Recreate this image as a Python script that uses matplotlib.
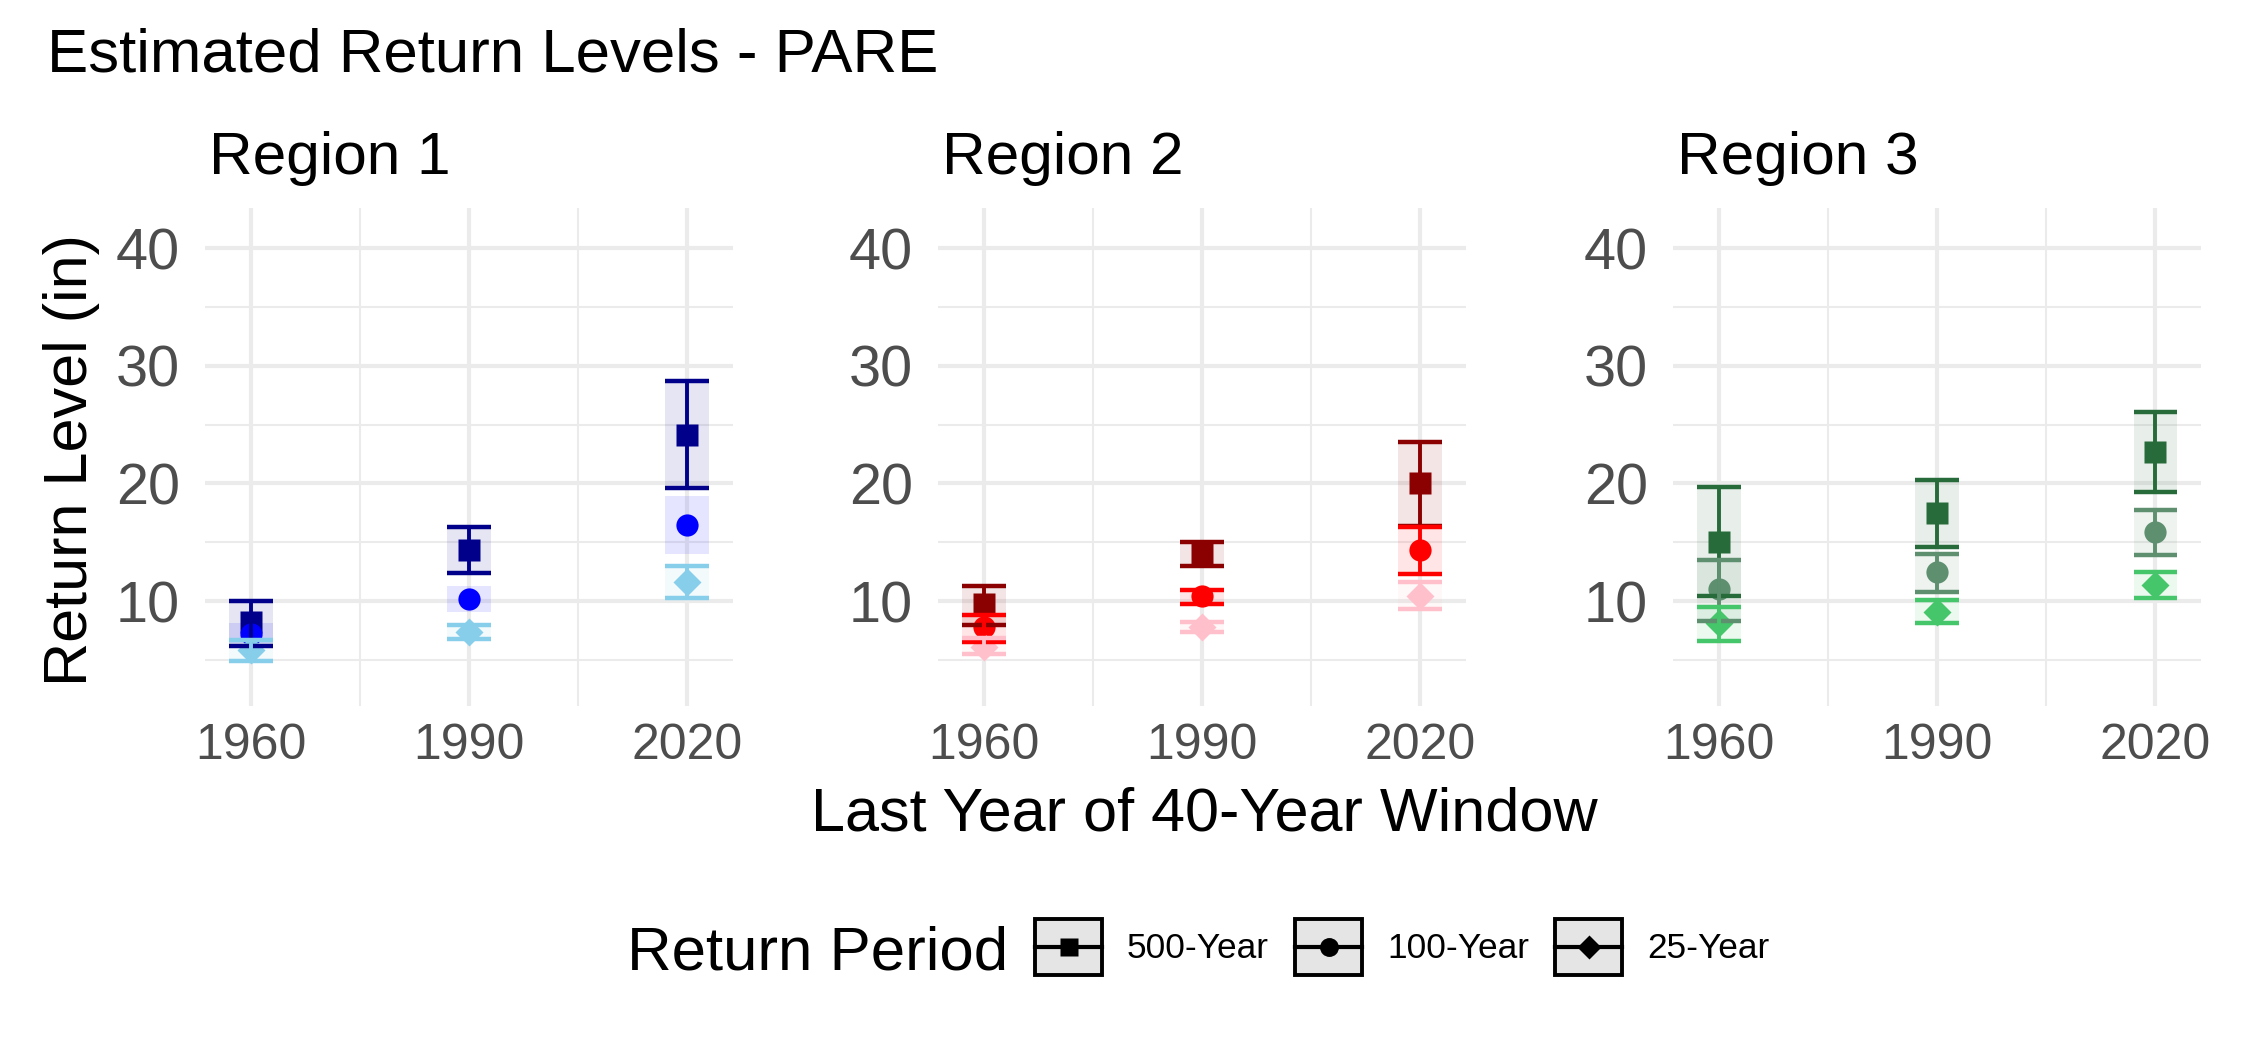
import matplotlib
matplotlib.use("Agg")
import matplotlib.pyplot as plt
from matplotlib.lines import Line2D
from matplotlib.patches import Rectangle

plt.rcParams['font.family'] = ['Liberation Sans', 'DejaVu Sans']

# ---- data ----
years = [1960, 1990, 2020]
periods = ['500-Year', '100-Year', '25-Year']
regions = ['Region 1', 'Region 2', 'Region 3']

# Region 1
r1_est = [[8.2, 14.3, 24.1], [7.2, 10.2, 16.5], [5.8, 7.4, 11.6]]
r1_lo = [[6.2, 12.4, 19.6], [6.4, 9.1, 14.0], [4.9, 6.75, 10.3]]
r1_hi = [[10.0, 16.3, 28.7], [8.1, 11.3, 18.9], [6.7, 8.0, 13.0]]

# Region 2
r2_est = [[9.75, 14.0, 20.0], [7.8, 10.4, 14.3], [6.1, 7.8, 10.4]]
r2_lo = [[8.0, 13.0, 16.4], [6.5, 9.75, 12.3], [5.5, 7.4, 9.3]]
r2_hi = [[11.3, 15.0, 23.5], [8.8, 10.95, 16.3], [6.9, 8.2, 11.65]]

# Region 3
r3_est = [[15.0, 17.5, 22.7], [11.0, 12.45, 15.9], [8.1, 9.1, 11.4]]
r3_lo = [[10.4, 14.6, 19.25], [8.3, 10.8, 13.95], [6.6, 8.1, 10.3]]
r3_hi = [[19.7, 20.3, 26.1], [13.5, 14.0, 17.75], [9.5, 10.05, 12.5]]

r1_cols = ['#00008B', '#0000FF', '#87CEEB']
r2_cols = ['#8B0000', '#FF0000', '#FFC0CB']
r3_cols = ['#276B3A', '#5E9070', '#45C66A']

# region 1 has no error bar drawn for the 100-year series
r1_bars = [True, False, True]
r2_bars = [True, True, True]
r3_bars = [True, True, True]

markers = ['s', 'o', 'D']
msizes = [16, 16, 14.5]

panels = [
    (r1_est, r1_lo, r1_hi, r1_cols, r1_bars),
    (r2_est, r2_lo, r2_hi, r2_cols, r2_bars),
    (r3_est, r3_lo, r3_hi, r3_cols, r3_bars),
]


class KeyHandler:
    # grey box + black line + marker, like the ggplot legend key
    def legend_artist(self, legend, orig_handle, fontsize, handlebox):
        x0, y0 = -handlebox.xdescent, -handlebox.ydescent
        w, h = handlebox.width, handlebox.height
        tr = handlebox.get_transform()
        box = Rectangle((x0, y0), w, h, facecolor='#E5E5E5', edgecolor='black', lw=2.8, transform=tr)
        ln = Line2D([x0, x0 + w], [y0 + h / 2] * 2, color='black', lw=3, transform=tr)
        mk = Line2D([x0 + w / 2], [y0 + h / 2], ls='none', marker=orig_handle.get_marker(),
                    ms=orig_handle.get_markersize(), color='black', mec='none', transform=tr)
        for a in (box, ln, mk):
            handlebox.add_artist(a)
        return box


fig = plt.figure(figsize=(22.5, 10.5), dpi=100)
lefts = [0.0911, 0.4169, 0.7436]
cap = 3.0  # half width of caps / boxes, in years

for i, (est, lo, hi, cols, bars) in enumerate(panels):
    ax = fig.add_axes([lefts[i], 0.3276, 0.2347, 0.4743])
    # shaded CI boxes
    for k in range(3):
        h = [b - a for a, b in zip(lo[k], hi[k])]
        ax.bar(years, h, bottom=lo[k], width=2 * cap, color=cols[k], alpha=0.1, lw=0, zorder=2)
    # points
    for k in range(3):
        ax.plot(years, est[k], ls='none', marker=markers[k], ms=msizes[k],
                color=cols[k], mec='none', zorder=3)
    # error bars
    for k in range(3):
        if not bars[k]:
            continue
        ax.vlines(years, lo[k], hi[k], color=cols[k], lw=2.8, zorder=4)
        ax.hlines(lo[k], [y - cap for y in years], [y + cap for y in years], color=cols[k], lw=3.2, zorder=4)
        ax.hlines(hi[k], [y - cap for y in years], [y + cap for y in years], color=cols[k], lw=3.2, zorder=4)

    ax.set_xlim(1953.7, 2026.3)
    ax.set_ylim(1.08, 43.4)
    ax.set_xticks(years)
    ax.set_xticks([1975, 2005], minor=True)
    ax.set_yticks([10, 20, 30, 40])
    ax.set_yticks([5, 15, 25, 35], minor=True)
    ax.grid(which='major', color='#EBEBEB', lw=3)
    ax.grid(which='minor', color='#EBEBEB', lw=1.5)
    ax.set_axisbelow(True)
    for s in ax.spines.values():
        s.set_visible(False)
    ax.tick_params(which='both', length=0)
    ax.tick_params(axis='y', labelsize=41.5, labelcolor='#4D4D4D', pad=18)
    ax.tick_params(axis='x', labelsize=36, labelcolor='#4D4D4D', pad=12)
    ax.text(0.008, 1.068, regions[i], transform=ax.transAxes, fontsize=43.5,
            ha='left', va='baseline')

fig.text(0.021, 0.9317, 'Estimated Return Levels - PARE', fontsize=44.5, ha='left', va='baseline')
fig.text(0.032, 0.562, 'Return Level (in)', fontsize=44, rotation=90, ha='center', va='center')
fig.text(0.5353, 0.2095, 'Last Year of 40-Year Window', fontsize=44, ha='center', va='baseline')

# legend
fig.text(0.2787, 0.0771, 'Return Period', fontsize=44.5, ha='left', va='baseline')
handles = [Line2D([], [], marker=markers[k], ms=msizes[k] * 0.85) for k in range(3)]
fig.legend(handles, periods, handler_map={Line2D: KeyHandler()},
           loc='center left', bbox_to_anchor=(0.46, 0.098), ncol=3, frameon=False,
           fontsize=25.4, handlelength=1.9, handleheight=2.1, handletextpad=0.7,
           columnspacing=0.75, borderpad=0, borderaxespad=0)

fig.savefig('out.png', dpi=100, facecolor='white')
